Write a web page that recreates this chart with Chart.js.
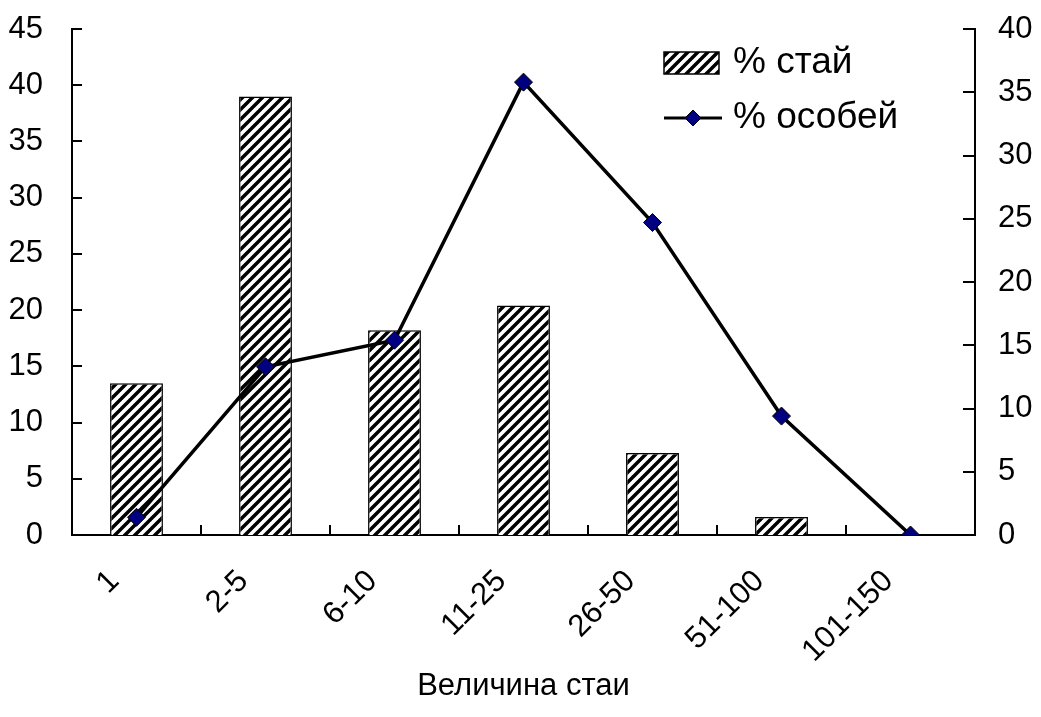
<!DOCTYPE html>
<html>
<head>
<meta charset="utf-8">
<script src="https://cdn.jsdelivr.net/npm/chart.js@4.4.1/dist/chart.umd.min.js"></script>
<style>
  html, body { margin: 0; padding: 0; background: #fff; }
</style>
</head>
<body>
<canvas id="myChart" width="1041" height="717"></canvas>
<script>
// data
var groupSizes = ['1', '2-5', '6-10', '11-25', '26-50', '51-100', '101-150'];
var pctFlocks = [13.5, 39.0, 18.2, 20.4, 7.3, 1.6, 0];      // % стай, left axis
var pctBirds = [1.4, 13.3, 15.4, 35.8, 24.7, 9.4, 0];       // % особей, right axis
var leftTicks = { min: 0, max: 45, step: 5 };
var rightTicks = { min: 0, max: 40, step: 5 };

var FONT = '"Liberation Sans", Arial, sans-serif';

// diagonal hatch fill like the old excel pattern
function hatch() {
  var s = 10;
  var c = document.createElement('canvas');
  c.width = s; c.height = s;
  var g = c.getContext('2d');
  g.fillStyle = '#fff';
  g.fillRect(0, 0, s, s);
  g.strokeStyle = '#000';
  g.lineWidth = 3.5;
  g.beginPath();
  g.moveTo(0, s); g.lineTo(s, 0);
  g.moveTo(-1, 1); g.lineTo(1, -1);
  g.moveTo(s - 1, s + 1); g.lineTo(s + 1, s - 1);
  g.stroke();
  return g.createPattern(c, 'repeat');
}
var stripes = hatch();

// y axes: fixed width, no extra label padding at the ends
function fixedWidth(w) {
  return function(s) {
    s.width = w;
    s.paddingTop = 0;
    s.paddingBottom = 0;
  };
}

// inward tick marks + legend inside the plot
var frame = {
  id: 'frame',
  afterDraw: function(chart) {
    var ctx = chart.ctx;
    var a = chart.chartArea;
    var x = chart.scales.x, y = chart.scales.y, y2 = chart.scales.y2;
    ctx.save();
    ctx.strokeStyle = '#000';
    ctx.lineWidth = 2;
    ctx.beginPath();
    y.ticks.forEach(function(t) {
      var p = Math.round(y.getPixelForValue(t.value));
      ctx.moveTo(a.left, p); ctx.lineTo(a.left + 10, p);
    });
    y2.ticks.forEach(function(t) {
      var p = Math.round(y2.getPixelForValue(t.value));
      ctx.moveTo(a.right - 12, p); ctx.lineTo(a.right, p);
    });
    for (var i = 0; i <= groupSizes.length; i++) {
      var px = Math.round(x.getPixelForValue(i - 0.5));
      ctx.moveTo(px, a.bottom); ctx.lineTo(px, a.bottom - 10);
    }
    ctx.stroke();

    // legend
    var bar = chart.data.datasets[1], line = chart.data.datasets[0];
    ctx.fillStyle = stripes;
    ctx.fillRect(664, 52, 55, 22);
    ctx.lineWidth = 1.5;
    ctx.strokeRect(664, 52, 55, 22);

    ctx.lineWidth = 3;
    ctx.beginPath();
    ctx.moveTo(664, 118); ctx.lineTo(722, 118);
    ctx.stroke();
    ctx.beginPath();
    ctx.moveTo(693, 110); ctx.lineTo(701, 118); ctx.lineTo(693, 126); ctx.lineTo(685, 118);
    ctx.closePath();
    ctx.fillStyle = '#000080';
    ctx.fill();
    ctx.lineWidth = 1;
    ctx.stroke();

    ctx.fillStyle = '#000';
    ctx.font = '37px ' + FONT;
    ctx.textBaseline = 'middle';
    ctx.fillText(bar.label, 733, 63);
    ctx.fillText(line.label, 733, 118);
    ctx.restore();
  }
};

var ctx = document.getElementById('myChart');
var myChart = new Chart(ctx, {
  type: 'bar',
  data: {
    labels: groupSizes,
    datasets: [{
      type: 'line',
      label: '% особей',
      data: pctBirds,
      yAxisID: 'y2',
      borderColor: '#000',
      borderWidth: 3.5,
      pointStyle: 'rectRot',
      pointRadius: 9,
      pointBackgroundColor: '#000080',
      pointBorderColor: '#000',
      pointBorderWidth: 1,
      tension: 0,
      order: 0
    }, {
      label: '% стай',
      data: pctFlocks,
      yAxisID: 'y',
      backgroundColor: stripes,
      borderColor: '#000',
      borderWidth: 1.5,
      categoryPercentage: 1,
      barPercentage: 0.41,
      order: 1
    }]
  },
  options: {
    responsive: false,
    animation: false,
    layout: { padding: { top: 29, left: 0, right: 0, bottom: 0 } },
    plugins: {
      legend: { display: false },
      tooltip: { enabled: false }
    },
    scales: {
      x: {
        grid: { display: false, drawTicks: false },
        border: { display: true, color: '#000', width: 2 },
        ticks: {
          color: '#000',
          font: { family: FONT, size: 31 },
          minRotation: 45,
          maxRotation: 45,
          autoSkip: false,
          padding: 28,
          labelOffset: -22
        },
        title: {
          display: true,
          text: 'Величина стаи',
          color: '#000',
          font: { family: FONT, size: 31 },
          padding: { top: 0, bottom: 12 }
        },
        afterFit: function(s) {
          s.height = 182;
          s.paddingLeft = 0;
          s.paddingRight = 0;
        }
      },
      y: {
        position: 'left',
        min: leftTicks.min,
        max: leftTicks.max,
        grid: { display: false, drawTicks: false },
        border: { display: true, color: '#000', width: 2 },
        ticks: {
          stepSize: leftTicks.step,
          color: '#000',
          font: { family: FONT, size: 31 },
          padding: 29
        },
        afterFit: fixedWidth(72)
      },
      y2: {
        position: 'right',
        min: rightTicks.min,
        max: rightTicks.max,
        grid: { display: false, drawTicks: false },
        border: { display: true, color: '#000', width: 2 },
        ticks: {
          stepSize: rightTicks.step,
          color: '#000',
          font: { family: FONT, size: 31 },
          padding: 23
        },
        afterFit: fixedWidth(66)
      }
    }
  },
  plugins: [frame]
});
</script>
</body>
</html>
